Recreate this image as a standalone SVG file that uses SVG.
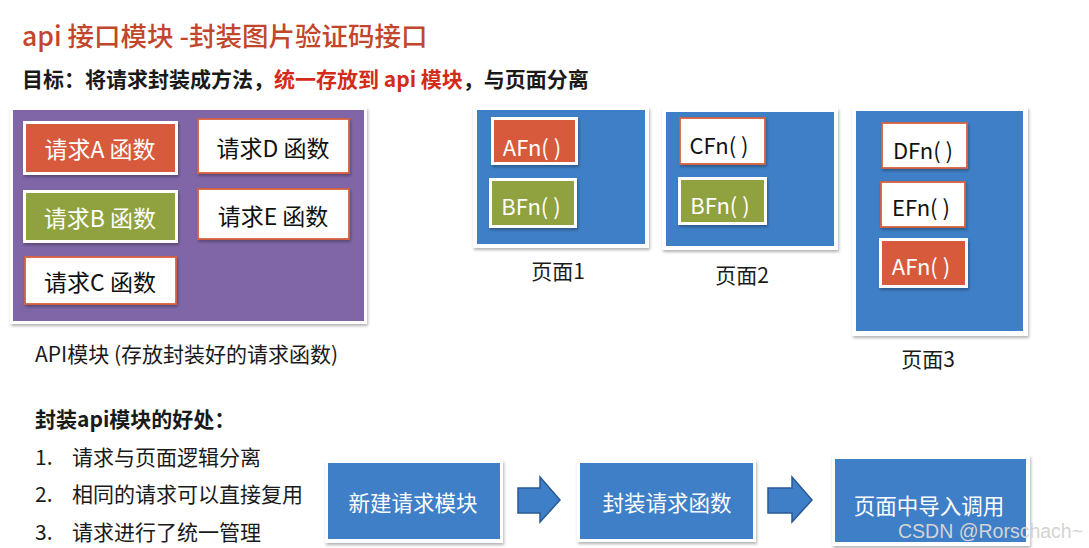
<svg xmlns="http://www.w3.org/2000/svg" width="1089" height="548" viewBox="0 0 1089 548">
<defs>
<filter id="sh" x="-10%" y="-10%" width="125%" height="130%">
<feDropShadow dx="1" dy="2" stdDeviation="1.5" flood-color="#000" flood-opacity="0.3"/>
</filter>
<style>
text{font-family:"Noto Sans CJK SC","Noto Sans",sans-serif;}
.title{font-size:26.5px;font-weight:500;fill:#c2462b;}
.sub{font-size:21px;font-weight:bold;fill:#1a1a1a;}
.red{fill:#d42a18;}
.frame{fill:#ffffff;filter:url(#sh);}
.purple{fill:#8066a7;}
.blue{fill:#3f7fc7;}
.redbox{fill:#d75a3c;}
.greenbox{fill:#8fa23f;}
.wbox{fill:#ffffff;stroke:#d8603f;stroke-width:1.8;filter:url(#sh);}
.fn{font-size:23px;text-anchor:middle;dominant-baseline:central;}
.fn2{font-size:22px;text-anchor:middle;dominant-baseline:central;}
.w{fill:#ffffff;}
.k{fill:#111111;}
.lbl{font-size:21px;fill:#1a1a1a;}
.flow{font-size:21.5px;fill:#ffffff;text-anchor:middle;dominant-baseline:central;}
.arrow{fill:#3f7fc7;stroke:#2a5a96;stroke-width:1.5;stroke-linejoin:miter;}
.wm{font-family:"Liberation Sans",Arial,sans-serif;font-size:19.5px;fill:#d4d4d4;}
</style>
</defs>
<rect width="1089" height="548" fill="#ffffff"/>

<g id="title">
<text class="title" x="22" y="46">api 接口模块 -封装图片验证码接口</text>
<text class="sub" x="22" y="87">目标：将请求封装成方法，<tspan class="red">统一存放到 api 模块</tspan>，与页面分离</text>
</g>

<g id="api-module">
<rect class="frame" x="10" y="107" width="357" height="217"/>
<rect class="purple" x="13" y="110" width="351" height="211"/>
</g>
<g id="req-a">
<rect class="frame" x="23" y="121" width="155" height="54"/>
<rect class="redbox" x="26" y="124" width="149" height="48"/>
<text class="fn w" x="100" y="148">请求A 函数</text>
</g>
<g id="req-b">
<rect class="frame" x="23" y="190" width="155" height="53"/>
<rect class="greenbox" x="26" y="193" width="149" height="47"/>
<text class="fn w" x="100" y="217">请求B 函数</text>
</g>
<g id="req-c">
<rect class="wbox" x="25" y="257" width="151" height="47"/>
<text class="fn k" x="100" y="281">请求C 函数</text>
</g>
<g id="req-d">
<rect class="wbox" x="198" y="119" width="151" height="54"/>
<text class="fn k" x="273" y="147">请求D 函数</text>
</g>
<g id="req-e">
<rect class="wbox" x="198" y="189" width="151" height="50"/>
<text class="fn k" x="273" y="215">请求E 函数</text>
</g>
<g id="api-label">
<text class="lbl" x="35" y="362">API模块 (存放封装好的请求函数)</text>
</g>

<g id="page1">
<rect class="frame" x="473" y="107" width="176" height="141"/>
<rect class="blue" x="477" y="110" width="168" height="134"/>
<rect class="frame" x="491" y="117" width="87" height="48"/>
<rect class="redbox" x="494" y="120" width="81" height="42"/>
<text class="fn2 w" x="532" y="146">AFn( )</text>
<rect class="frame" x="489" y="178" width="88" height="50"/>
<rect class="greenbox" x="492" y="181" width="82" height="44"/>
<text class="fn2 w" x="531" y="205">BFn( )</text>
<text class="lbl" x="558" y="279" text-anchor="middle">页面1</text>
</g>

<g id="page2">
<rect class="frame" x="662" y="108" width="176" height="142"/>
<rect class="blue" x="666" y="112" width="168" height="134"/>
<rect class="wbox" x="680" y="118" width="85" height="46"/>
<text class="fn2 k" x="719" y="144">CFn( )</text>
<rect class="frame" x="678" y="177" width="89" height="48"/>
<rect class="greenbox" x="681" y="180" width="83" height="42"/>
<text class="fn2 w" x="720" y="204">BFn( )</text>
<text class="lbl" x="742" y="283" text-anchor="middle">页面2</text>
</g>

<g id="page3">
<rect class="frame" x="852" y="107" width="176" height="229"/>
<rect class="blue" x="856" y="111" width="167" height="220"/>
<rect class="wbox" x="882" y="123" width="85" height="45"/>
<text class="fn2 k" x="923" y="149">DFn( )</text>
<rect class="wbox" x="881" y="182" width="84" height="45"/>
<text class="fn2 k" x="921" y="206">EFn( )</text>
<rect class="frame" x="879" y="238" width="89" height="50"/>
<rect class="redbox" x="882" y="241" width="83" height="44"/>
<text class="fn2 w" x="921" y="265">AFn( )</text>
<text class="lbl" x="928" y="367" text-anchor="middle">页面3</text>
</g>

<g id="benefits">
<text class="lbl" x="35" y="427" font-weight="bold">封装api模块的好处：</text>
<text class="lbl" x="35" y="465">1.</text>
<text class="lbl" x="72" y="465">请求与页面逻辑分离</text>
<text class="lbl" x="35" y="502">2.</text>
<text class="lbl" x="72" y="502">相同的请求可以直接复用</text>
<text class="lbl" x="35" y="540">3.</text>
<text class="lbl" x="72" y="540">请求进行了统一管理</text>
</g>

<g id="step1">
<rect class="frame" x="325" y="460" width="178" height="83"/>
<rect class="blue" x="328" y="463" width="172" height="76"/>
<text class="flow" x="413" y="501">新建请求模块</text>
</g>
<g id="step2">
<rect class="frame" x="577" y="460" width="179" height="82"/>
<rect class="blue" x="580" y="463" width="173" height="76"/>
<text class="flow" x="667" y="501">封装请求函数</text>
</g>
<g id="step3">
<rect class="frame" x="832" y="455" width="198" height="91"/>
<rect class="blue" x="835" y="459" width="191" height="83"/>
<text class="flow" x="929" y="504">页面中导入调用</text>
</g>

<g id="connectors">
<polygon class="arrow" points="518,488 540,488 540,477 560,500 540,522 540,513 518,513"/>
<polygon class="arrow" points="768,488 792,488 792,477 812,500 792,522 792,513 768,513"/>
</g>

<text class="wm" x="898" y="538">CSDN @Rorschach~</text>
</svg>
